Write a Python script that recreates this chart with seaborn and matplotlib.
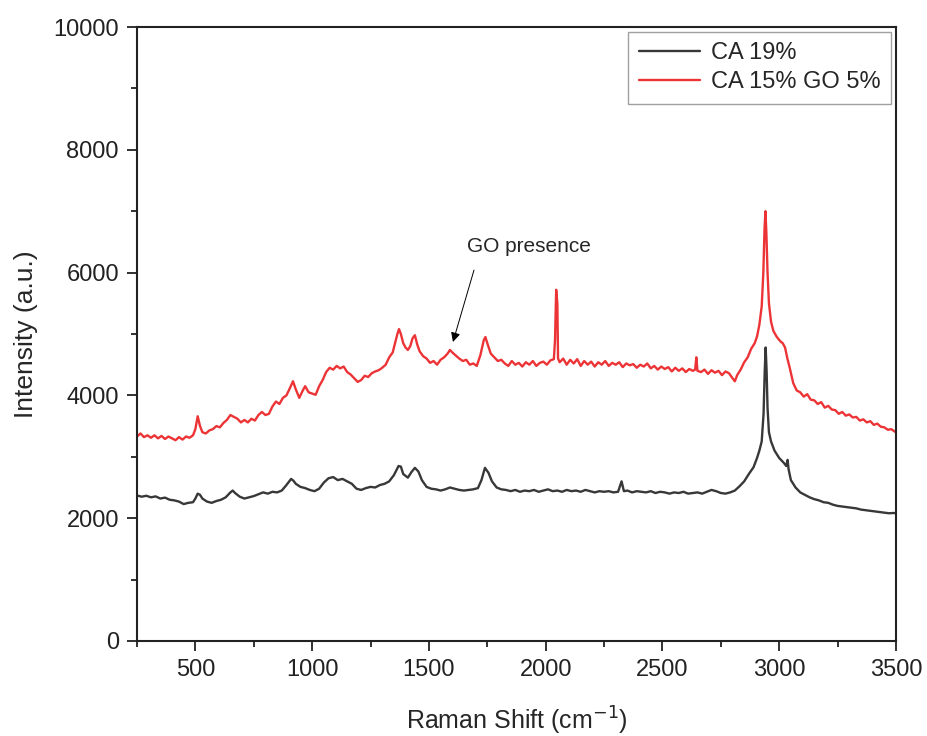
import pandas as pd
import matplotlib.pyplot as plt
from matplotlib.ticker import MultipleLocator
import seaborn as sns

# Raman spectra, (shift cm-1, intensity a.u.)
ca19_points = [
    (250, 2370), (270, 2350), (290, 2365), (310, 2340), (330, 2355), (350, 2320), (370, 2335),
    (390, 2300), (410, 2290), (430, 2270), (450, 2230), (470, 2250), (490, 2260), (500, 2320),
    (510, 2400), (520, 2380), (530, 2320), (550, 2270), (570, 2250), (590, 2280), (610, 2300),
    (630, 2340), (650, 2420), (660, 2450), (670, 2410), (690, 2350), (710, 2320), (730, 2340),
    (750, 2360), (770, 2390), (790, 2420), (810, 2400), (830, 2430), (850, 2420), (870, 2450),
    (890, 2540), (910, 2640), (920, 2610), (930, 2560), (950, 2510), (970, 2490), (990, 2460),
    (1010, 2440), (1030, 2480), (1050, 2580), (1070, 2650), (1090, 2670), (1110, 2620),
    (1130, 2640), (1150, 2600), (1170, 2560), (1190, 2480), (1210, 2460), (1230, 2490),
    (1250, 2510), (1270, 2500), (1290, 2540), (1310, 2560), (1330, 2600), (1350, 2700),
    (1370, 2850), (1380, 2840), (1390, 2720), (1400, 2690), (1410, 2660), (1425, 2750),
    (1440, 2820), (1455, 2760), (1470, 2620), (1490, 2510), (1510, 2480), (1530, 2470),
    (1550, 2450), (1570, 2470), (1590, 2500), (1610, 2480), (1630, 2460), (1650, 2450),
    (1670, 2460), (1690, 2470), (1710, 2490), (1725, 2620), (1740, 2820), (1755, 2740),
    (1770, 2600), (1790, 2500), (1810, 2470), (1830, 2460), (1850, 2440), (1870, 2460),
    (1890, 2430), (1910, 2450), (1930, 2440), (1950, 2460), (1970, 2430), (1990, 2450),
    (2010, 2470), (2030, 2440), (2050, 2450), (2070, 2430), (2090, 2460), (2110, 2440),
    (2130, 2450), (2150, 2430), (2170, 2460), (2190, 2440), (2210, 2420), (2230, 2440),
    (2250, 2430), (2270, 2440), (2290, 2420), (2310, 2430), (2325, 2600), (2335, 2440),
    (2350, 2450), (2370, 2420), (2390, 2440), (2410, 2430), (2430, 2420), (2450, 2440),
    (2470, 2410), (2490, 2430), (2510, 2420), (2530, 2400), (2550, 2420), (2570, 2410),
    (2590, 2430), (2610, 2400), (2630, 2410), (2650, 2420), (2670, 2400), (2690, 2430),
    (2710, 2460), (2730, 2440), (2750, 2410), (2770, 2400), (2790, 2420), (2810, 2450),
    (2830, 2520), (2850, 2600), (2870, 2720), (2890, 2830), (2905, 2980), (2915, 3100),
    (2925, 3250), (2933, 3700), (2938, 4400), (2942, 4780), (2946, 4400), (2950, 3800),
    (2956, 3400), (2965, 3250), (2980, 3100), (3000, 2980), (3020, 2900), (3030, 2850),
    (3036, 2950), (3040, 2800), (3050, 2620), (3070, 2500), (3090, 2420), (3110, 2380),
    (3130, 2340), (3150, 2310), (3170, 2290), (3190, 2260), (3210, 2250), (3230, 2220),
    (3250, 2200), (3270, 2190), (3290, 2180), (3310, 2170), (3330, 2160), (3350, 2140),
    (3370, 2130), (3390, 2120), (3410, 2110), (3430, 2100), (3450, 2090), (3470, 2080),
    (3490, 2085), (3500, 2080),
]

go_points = [
    (250, 3330), (265, 3380), (280, 3320), (295, 3350), (310, 3310), (325, 3350), (340, 3300),
    (355, 3340), (370, 3290), (385, 3330), (400, 3300), (415, 3270), (430, 3320), (445, 3280),
    (460, 3330), (475, 3310), (490, 3350), (500, 3450), (510, 3660), (520, 3500), (530, 3400),
    (545, 3380), (560, 3430), (575, 3450), (590, 3500), (605, 3480), (620, 3550), (635, 3600),
    (650, 3680), (665, 3650), (680, 3620), (695, 3560), (710, 3600), (725, 3560), (740, 3620),
    (755, 3590), (770, 3680), (785, 3730), (800, 3680), (815, 3700), (830, 3820), (845, 3900),
    (860, 3860), (875, 3960), (890, 4000), (905, 4120), (918, 4230), (930, 4100), (945, 3960),
    (960, 4080), (970, 4150), (985, 4050), (1000, 4030), (1015, 4010), (1030, 4150),
    (1045, 4250), (1060, 4380), (1075, 4450), (1090, 4420), (1105, 4480), (1120, 4440),
    (1135, 4470), (1150, 4380), (1165, 4340), (1180, 4280), (1195, 4220), (1210, 4250),
    (1225, 4320), (1240, 4300), (1255, 4360), (1270, 4390), (1285, 4410), (1300, 4450),
    (1315, 4500), (1330, 4620), (1345, 4700), (1355, 4850), (1365, 5000), (1372, 5080),
    (1380, 5000), (1390, 4850), (1400, 4780), (1410, 4740), (1420, 4800), (1430, 4930),
    (1440, 4980), (1450, 4830), (1460, 4720), (1475, 4640), (1490, 4600), (1505, 4530),
    (1520, 4560), (1535, 4500), (1550, 4580), (1565, 4620), (1580, 4680), (1590, 4740),
    (1600, 4700), (1615, 4650), (1630, 4600), (1645, 4560), (1660, 4580), (1675, 4500),
    (1690, 4520), (1705, 4480), (1720, 4650), (1735, 4900), (1742, 4950), (1750, 4850),
    (1765, 4680), (1780, 4620), (1795, 4560), (1810, 4580), (1825, 4520), (1840, 4480),
    (1855, 4560), (1870, 4500), (1885, 4530), (1900, 4470), (1915, 4540), (1930, 4500),
    (1945, 4560), (1960, 4480), (1975, 4530), (1990, 4550), (2005, 4500), (2020, 4570),
    (2035, 4590), (2040, 4900), (2045, 5720), (2050, 5500), (2053, 4600), (2060, 4540),
    (2075, 4600), (2090, 4500), (2105, 4580), (2120, 4520), (2135, 4590), (2150, 4480),
    (2165, 4560), (2180, 4500), (2195, 4550), (2210, 4470), (2225, 4540), (2240, 4500),
    (2255, 4560), (2270, 4480), (2285, 4530), (2300, 4500), (2315, 4540), (2330, 4460),
    (2345, 4520), (2360, 4490), (2375, 4510), (2390, 4450), (2405, 4500), (2420, 4470),
    (2435, 4520), (2450, 4440), (2465, 4480), (2480, 4420), (2495, 4470), (2510, 4430),
    (2525, 4460), (2540, 4390), (2555, 4450), (2570, 4400), (2585, 4440), (2600, 4380),
    (2615, 4430), (2630, 4400), (2640, 4420), (2645, 4620), (2650, 4400), (2665, 4380),
    (2680, 4420), (2695, 4350), (2710, 4410), (2725, 4370), (2740, 4400), (2755, 4330),
    (2770, 4390), (2785, 4360), (2800, 4280), (2810, 4230), (2820, 4330), (2835, 4420),
    (2850, 4540), (2865, 4620), (2880, 4760), (2895, 4850), (2905, 4960), (2915, 5150),
    (2925, 5450), (2932, 6000), (2937, 6700), (2941, 7000), (2945, 6650), (2950, 6000),
    (2956, 5500), (2965, 5200), (2975, 5050), (2990, 4950), (3005, 4880), (3015, 4850),
    (3025, 4780), (3035, 4600), (3045, 4450), (3060, 4200), (3075, 4080), (3090, 4050),
    (3105, 3980), (3120, 4020), (3135, 3930), (3150, 3920), (3165, 3860), (3180, 3890),
    (3195, 3800), (3210, 3830), (3225, 3770), (3240, 3760), (3255, 3700), (3270, 3730),
    (3285, 3670), (3300, 3690), (3315, 3640), (3330, 3650), (3345, 3590), (3360, 3610),
    (3375, 3560), (3390, 3580), (3405, 3520), (3420, 3540), (3435, 3490), (3450, 3480),
    (3465, 3440), (3480, 3450), (3495, 3410), (3500, 3400),
]

labels = ['CA 19%', 'CA 15% GO 5%']
colors = ['#383838', '#ec3437']

ca19_x, ca19_y = zip(*ca19_points)
go_x, go_y = zip(*go_points)

df = pd.concat([
    pd.DataFrame({'shift': ca19_x, 'intensity': ca19_y, 'sample': labels[0]}),
    pd.DataFrame({'shift': go_x, 'intensity': go_y, 'sample': labels[1]}),
])

sns.set_theme(style='ticks')
plt.rcParams['font.family'] = ['Liberation Sans', 'DejaVu Sans']

fig = plt.figure(figsize=(9.28, 7.36), dpi=100)
ax = fig.add_axes([0.1476, 0.1291, 0.8179, 0.8342])

sns.lineplot(data=df, x='shift', y='intensity', hue='sample', palette=colors,
             estimator=None, sort=False, linewidth=1.7, ax=ax)

ax.set_xlim(250, 3500)
ax.set_ylim(0, 10000)
ax.xaxis.set_minor_locator(MultipleLocator(250))
ax.yaxis.set_major_locator(MultipleLocator(2000))
ax.yaxis.set_minor_locator(MultipleLocator(1000))
ax.set_xticks([500, 1000, 1500, 2000, 2500, 3000, 3500])
ax.tick_params(which='major', direction='out', length=7, width=1.3, labelsize=17,
               colors='#222222', pad=6)
ax.tick_params(which='minor', direction='out', length=4, width=1.3, colors='#222222')
for s in ax.spines.values():
    s.set_linewidth(1.5)
    s.set_color('#222222')

ax.set_xlabel('Raman Shift (cm$^{-1}$)', fontsize=18, labelpad=17)
ax.set_ylabel('Intensity (a.u.)', fontsize=19, labelpad=11)

ax.text(1930, 6430, 'GO presence', fontsize=15, ha='center', va='center')
ax.annotate('', xy=(1603, 4870), xytext=(1693, 6040),
            arrowprops=dict(arrowstyle='-|>', color='black', lw=0.7,
                            mutation_scale=14, shrinkA=0, shrinkB=0))

leg = ax.legend(loc='upper right', fontsize=17, frameon=True, fancybox=False,
                edgecolor='#888888', handlelength=2.6, borderpad=0.45,
                labelspacing=0.3, handletextpad=0.45, borderaxespad=0.2)
leg.get_frame().set_linewidth(1.0)

fig.savefig('out.png', dpi=100)
